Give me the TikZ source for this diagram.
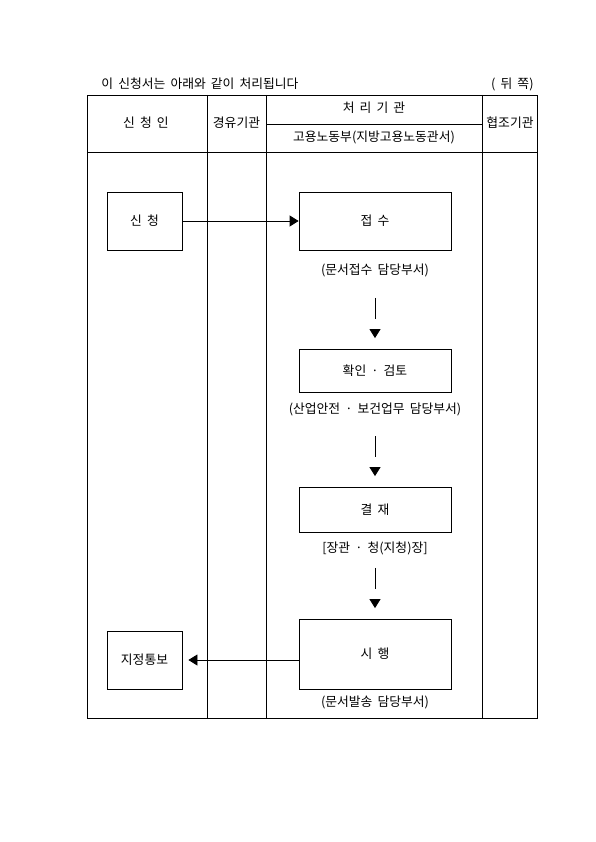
\documentclass[tikz,border=0pt]{standalone}
\usepackage{fontspec}
\setmainfont{Noto Sans CJK KR}
\usetikzlibrary{arrows.meta, positioning, calc}
\newcommand{\formfont}{\fontsize{12.8}{15}\selectfont\spaceskip=0.4em\relax}

\begin{document}
\begin{tikzpicture}[
        x=1pt, y=-1pt,
        line width=0.8pt,
        every node/.style={inner sep=0pt, text centered, font=\formfont},
        procbox/.style={draw, rectangle, minimum width=152pt},
        sidebox/.style={draw, rectangle, minimum width=75pt, minimum height=58pt},
        flowline/.style={shorten >=30pt},
        flowtip/.style={-{Triangle[length=9pt, width=11pt]}, shorten >=10.5pt}
    ]
        % Page
        \useasboundingbox (0,0) rectangle (595,842);

        % Title
        \node[anchor=west] (title) at (101,84) {이 신청서는 아래와 같이 처리됩니다};
        \node[anchor=east] (side) at (534,84) {( 뒤 쪽)};

        % Table frame
        \draw (87,95) rectangle (537,718);
        \draw (87,152) -- (537,152);
        \draw (207,95) -- (207,718);
        \draw (266,95) -- (266,718);
        \draw (482,95) -- (482,718);
        \draw (266,124) -- (482,124);

        % Header
        \node (applicant) at (146,123) {신 청 인};
        \node (via) at (236.5,123) {경유기관};
        \node (handler) at (374,108) {처 리 기 관};
        \node (ministry) at (374,137) {고용노동부(지방고용노동관서)};
        \node (coop) at (510,123) {협조기관};

        % Applicant column
        \node[sidebox] (apply) at (144.5,221) {신 청};
        \node[sidebox] (notice) at (144.5,660) {지정통보};

        % Handling column
        \node[procbox, minimum height=58pt] (receive) at (375,221) {접 수};
        \node (lab1) at (375,270) {(문서접수 담당부서)};
        \node[procbox, minimum height=43pt] (review) at (375,370.5) {확인 · 검토};
        \node (lab2) at (375,409.5) {(산업안전 · 보건업무 담당부서)};
        \node[procbox, minimum height=45pt] (approve) at (375,509.5) {결 재};
        \node (lab3) at (375,548) {[장관 · 청(지청)장]};
        \node[procbox, minimum height=70pt] (execute) at (375,654) {시 행};
        \node (lab4) at (375,702) {(문서발송 담당부서)};

        % Arrows
        \draw[-{Triangle[length=9pt, width=11pt]}] (apply) -- (receive);
        \draw[flowline, shorten <=21pt] (lab1) -- (review.north);
        \draw[flowtip, shorten <=59pt] (lab1) -- (review.north);
        \draw[flowline, shorten <=20pt] (lab2) -- (approve.north);
        \draw[flowtip, shorten <=58pt] (lab2) -- (approve.north);
        \draw[flowline, shorten <=13pt] (lab3) -- (execute.north);
        \draw[flowtip, shorten <=52pt] (lab3) -- (execute.north);
        \draw[-{Triangle[length=9pt, width=11pt]}, shorten >=6pt] (notice -| execute.west) -- (notice.east);
    \end{tikzpicture}
\end{document}
